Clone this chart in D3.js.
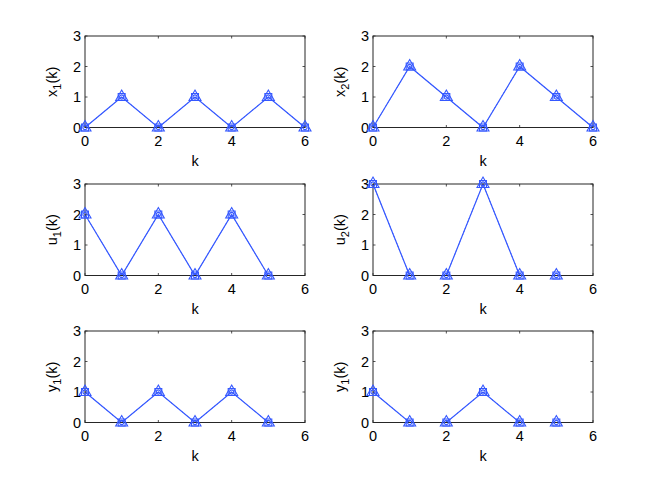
<!DOCTYPE html>
<html>
<head>
<meta charset="utf-8">
<script src="https://cdn.jsdelivr.net/npm/d3@7"></script>
<style>
  body { margin: 0; background: #fff; }
  text { font-family: "Liberation Sans", Arial, sans-serif; }
</style>
</head>
<body>
<svg id="fig" width="654" height="492"></svg>
<script>
// values, k = 0..6 (states) or 0..5 (inputs/outputs)
const kStates = [0, 1, 2, 3, 4, 5, 6];
const kInputs = [0, 1, 2, 3, 4, 5];

const x1 = [0, 1, 0, 1, 0, 1, 0];
const x2 = [0, 2, 1, 0, 2, 1, 0];
const u1 = [2, 0, 2, 0, 2, 0];
const u2 = [3, 0, 0, 3, 0, 0];
const y1a = [1, 0, 1, 0, 1, 0];
const y1b = [1, 0, 0, 1, 0, 0];

const xTicks = [0, 2, 4, 6];
const yTicks = [0, 1, 2, 3];

const panels = [
  {k: kStates, v: x1,  name: "x", sub: "1"},
  {k: kStates, v: x2,  name: "x", sub: "2"},
  {k: kInputs, v: u1,  name: "u", sub: "1"},
  {k: kInputs, v: u2,  name: "u", sub: "2"},
  {k: kInputs, v: y1a, name: "y", sub: "1"},
  {k: kInputs, v: y1b, name: "y", sub: "1"}
];

const svg = d3.select("#fig");
const blue = "#3558ff";
const colLeft = [85, 373];
const rowTop = [36, 184, 331];
const w = 220, h = 91.5;

panels.forEach((p, i) => {
  const left = colLeft[i % 2];
  const top = rowTop[Math.floor(i / 2)];
  const g = svg.append("g").attr("transform", `translate(${left},${top})`);

  const x = d3.scaleLinear().domain([0, 6]).range([0, w]);
  const y = d3.scaleLinear().domain([0, 3]).range([h, 0]);

  // inward ticks on all four sides
  const tl = 2.5;
  g.selectAll(".xt").data(xTicks).join("path")
    .attr("d", d => `M${x(d)},${h}v${-tl}M${x(d)},0v${tl}`)
    .attr("stroke", "#262626").attr("stroke-width", 0.8);
  g.selectAll(".yt").data(yTicks).join("path")
    .attr("d", d => `M0,${y(d)}h${tl}M${w},${y(d)}h${-tl}`)
    .attr("stroke", "#262626").attr("stroke-width", 0.8);

  g.selectAll(".xl").data(xTicks).join("text")
    .attr("x", d => x(d)).attr("y", h + 18)
    .attr("text-anchor", "middle").attr("font-size", 14.5)
    .text(d => d);
  g.selectAll(".yl").data(yTicks).join("text")
    .attr("x", -4).attr("y", d => y(d) + 5)
    .attr("text-anchor", "end").attr("font-size", 14.5)
    .text(d => d);

  g.append("text").attr("x", w / 2).attr("y", h + 38)
    .attr("text-anchor", "middle").attr("font-size", 14.5).text("k");

  const yl = g.append("text")
    .attr("transform", `translate(-28,${h / 2}) rotate(-90)`)
    .attr("text-anchor", "middle").attr("font-size", 14.5);
  yl.append("tspan").text(p.name);
  yl.append("tspan").attr("dy", 4).attr("font-size", 11).text(p.sub);
  yl.append("tspan").attr("dy", -4).text("(k)");

  const pts = p.k.map((k, j) => [k, p.v[j]]);
  const line = d3.line().x(d => x(d[0])).y(d => y(d[1]));

  // dotted companion trace underneath
  g.append("path").attr("d", line(pts)).attr("fill", "none")
    .attr("stroke", blue).attr("stroke-width", 0.8).attr("stroke-dasharray", "1.5,2");
  g.append("path").attr("d", line(pts)).attr("fill", "none")
    .attr("stroke", blue).attr("stroke-width", 1.2);

  g.append("rect").attr("width", w).attr("height", h)
    .attr("fill", "none").attr("stroke", "#262626").attr("stroke-width", 1);

  const tri = d3.symbol().type(d3.symbolTriangle).size(62);
  const sq = d3.symbol().type(d3.symbolSquare).size(48);
  const circ = d3.symbol().type(d3.symbolCircle).size(14);
  [tri, sq, circ].forEach(sym => {
    g.selectAll(null).data(pts).join("path")
      .attr("d", sym())
      .attr("transform", d => `translate(${x(d[0])},${y(d[1])})`)
      .attr("fill", "none").attr("stroke", blue).attr("stroke-width", 1.1);
  });
});
</script>
</body>
</html>
